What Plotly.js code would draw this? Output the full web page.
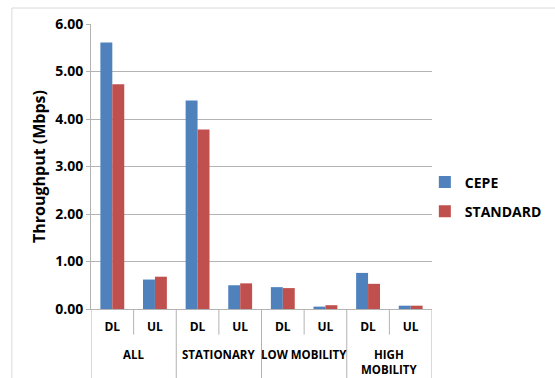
<!DOCTYPE html>
<html>
<head>
<meta charset="utf-8">
<script src="https://cdn.plot.ly/plotly-3.0.1.min.js"></script>
<style>
  html, body { margin: 0; padding: 0; background: #fff; }
  #chart { width: 555px; height: 378px; }
</style>
</head>
<body>
<div id="chart"></div>
<script>
// Throughput per scenario and link direction
const scenarios = ["ALL", "STATIONARY", "LOW MOBILITY", "HIGH<br>MOBILITY"];
const links = ["DL", "UL", "DL", "UL", "DL", "UL", "DL", "UL"];
const cepe = [5.61, 0.62, 4.39, 0.50, 0.46, 0.05, 0.76, 0.07];
const standard = [4.73, 0.68, 3.78, 0.54, 0.44, 0.08, 0.53, 0.07];
const yTicks = [0, 1, 2, 3, 4, 5, 6];

const font = "Open Sans, Liberation Sans, sans-serif";
const axisGrey = "#b3b3b3";
const border = "#d9d9d9";

const slots = links.map((_, i) => i);
const perGroup = links.length / scenarios.length;

const traces = [
  { type: "bar", name: "CEPE", legendgroup: "a", x: slots, y: cepe, marker: { color: "#4F81BD" } },
  { type: "bar", name: "STANDARD", legendgroup: "b", x: slots, y: standard, marker: { color: "#C0504D" } }
];

// Category axis furniture: short separators between links, long dividers between scenarios
const shapes = [];
for (let i = 0; i <= links.length; i++) {
  const isGroupEdge = i % perGroup === 0;
  shapes.push({
    type: "line", xref: "x", yref: "paper",
    x0: i - 0.5, x1: i - 0.5, y0: 0, y1: isGroupEdge ? -0.3 : -0.09,
    line: { color: axisGrey, width: 1 }
  });
}
// Outer chart frame (top and left edges)
shapes.push({ type: "line", xref: "paper", yref: "paper", x0: -0.232, x1: 1.5, y0: 1.056, y1: 1.056, line: { color: border, width: 1 } });
shapes.push({ type: "line", xref: "paper", yref: "paper", x0: -0.232, x1: -0.232, y0: 1.056, y1: -0.3, line: { color: border, width: 1 } });

const annotations = scenarios.map((name, g) => ({
  xref: "x", yref: "paper",
  x: g * perGroup + (perGroup - 1) / 2, y: -0.125,
  xanchor: "center", yanchor: "top",
  text: name, showarrow: false, align: "center",
  font: { size: 11.5, family: font, weight: "bold", color: "#000" }
}));

const layout = {
  width: 555, height: 378,
  margin: { l: 91, r: 123, t: 24, b: 69, autoexpand: false },
  paper_bgcolor: "#fff", plot_bgcolor: "#fff",
  font: { family: font, color: "#000", size: 12, weight: "bold" },
  barmode: "group", bargap: 0.44, bargroupgap: 0,
  showlegend: true,
  legend: { x: 0.979, y: 0.393, yanchor: "middle", xanchor: "left", tracegroupgap: 8,
            traceorder: "grouped", bgcolor: "rgba(0,0,0,0)",
            font: { size: 14, family: font, weight: "bold" }, itemwidth: 30 },
  xaxis: {
    range: [-0.5, links.length - 0.5],
    tickvals: slots, ticktext: links,
    ticks: "outside", ticklen: 7, tickcolor: "rgba(0,0,0,0)",
    showline: true, linecolor: axisGrey, linewidth: 1,
    showgrid: false, zeroline: false,
    tickfont: { size: 12, family: font, weight: "bold" }
  },
  yaxis: {
    range: [0, 6], tickvals: yTicks, tickformat: ".2f",
    showgrid: true, gridcolor: axisGrey, gridwidth: 1,
    showline: true, linecolor: axisGrey, linewidth: 1,
    ticks: "outside", ticklen: 4, tickcolor: axisGrey,
    zeroline: false,
    tickfont: { size: 14, family: font, weight: "bold" },
    title: { text: "Throughput (Mbps)", font: { size: 16, family: font, weight: "bold" }, standoff: 5 }
  },
  shapes: shapes,
  annotations: annotations
};

Plotly.newPlot("chart", traces, layout, { displayModeBar: false, staticPlot: true });
</script>
</body>
</html>
